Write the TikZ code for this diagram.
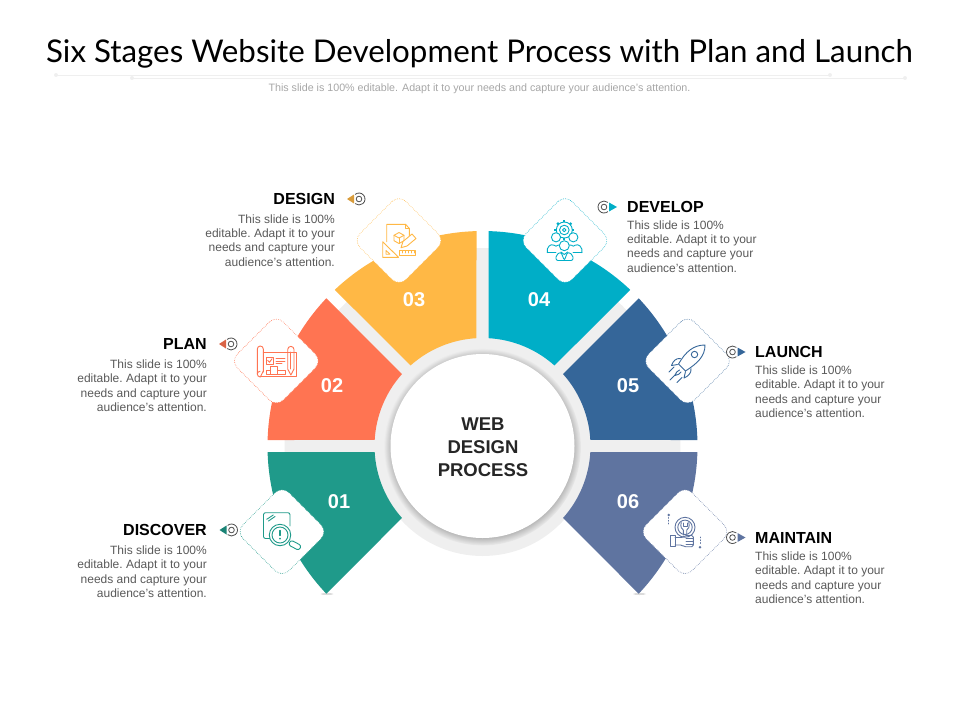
\documentclass[tikz,border=0pt]{standalone}
\usepackage{fontspec}
\setmainfont{Liberation Sans}
\newfontfamily\titlefont{Lato}
\usetikzlibrary{shadows}
\definecolor{stageA}{HTML}{1F9A8A}
\definecolor{stageB}{HTML}{FF7452}
\definecolor{stageC}{HTML}{FFB845}
\definecolor{stageD}{HTML}{00AEC7}
\definecolor{stageE}{HTML}{356699}
\definecolor{stageF}{HTML}{5F74A0}
\definecolor{ringgrey}{HTML}{EFEFEF}
\tikzset{
  headtxt/.style={font=\fontsize{16}{19}\selectfont\bfseries,text=black,inner sep=0pt},
  bodytxt/.style={font=\fontsize{12}{14.3}\selectfont\frenchspacing,text=black!65,inner sep=0pt},
  numtxt/.style={font=\fontsize{20}{24}\selectfont\bfseries,text=white,inner sep=0pt},
  tilebox/.style={rectangle,rotate=45,minimum size=65pt,rounded corners=10pt,fill=white,draw,dash pattern=on .6pt off 1.2pt,line width=.6pt,inner sep=0pt},
  iconline/.style={line width=.9pt,line join=round,line cap=round},
  markline/.style={black!70,line width=.8pt},
  ruleline/.style={ringgrey,line width=1pt}
}
\begin{document}
\begin{tikzpicture}[x=1pt,y=1pt,yscale=-1]
  \useasboundingbox (0,0) rectangle (960,720);
  \coordinate (hub) at (482.5,446);
  % title
  \node[font=\fontsize{31.3}{36}\selectfont\titlefont,inner sep=0pt] (titletxt) at (479.5,54) {Six Stages Website Development Process with Plan and Launch};
  \node[font=\fontsize{10.7}{12}\selectfont,text=black!35,inner sep=0pt] (subtxt) at (479.5,88.5) {This slide is 100\% editable. Adapt it to your needs and capture your audience's attention.};
  \draw[ruleline] (56,75) -- (830,75);
  \draw[ruleline] (132,78) -- (905,78);
  \foreach \dx/\dy in {56/75,830/75,132/78,905/78}
    \fill[ringgrey] (\dx,\dy) circle (2);
  % grey backing
  \fill[ringgrey] ([shift={(178.26:198)}]hub) arc[start angle=178.26,end angle=361.74,radius=198] -- cycle;
  \fill[ringgrey] (hub) circle (110);
  % little shadows under the tips
  \fill[black!14] (327,594) ellipse (6.5 and 1);
  \fill[black!14] (639.5,594) ellipse (6.5 and 1);
  % segments
  \foreach \ang/\col in {135/stageA,180/stageB,225/stageC,270/stageD,315/stageE,0/stageF}{
    \pgfmathsetmacro{\oa}{\ang+1.6}
    \pgfmathsetmacro{\ob}{\ang+43.4}
    \pgfmathsetmacro{\ia}{\ang+41.8}
    \pgfmathsetmacro{\ib}{\ang+3.2}
    \fill[\col] ([shift={(\oa:215)}]hub) arc[start angle=\oa,end angle=\ob,radius=215]
      -- ([shift={(\ia:108)}]hub) arc[start angle=\ia,end angle=\ib,radius=108] -- cycle;
  }
  % hub
  \node[circle,fill=white,minimum size=184pt,inner sep=0pt,
    circular drop shadow={shadow scale=1.07,shadow xshift=0pt,shadow yshift=-1pt,opacity=.9}] (hubdisc) at (hub) {};
  \node[align=center,inner sep=0pt,font=\fontsize{18.5}{23}\selectfont\bfseries,text=black!85] (hubtxt) at (483,447.5) {WEB\\DESIGN\\PROCESS};
  % numbers
  \node[numtxt] (numA) at (339,502) {01};
  \node[numtxt] (numB) at (332,386) {02};
  \node[numtxt] (numC) at (414,300) {03};
  \node[numtxt] (numD) at (539,300) {04};
  \node[numtxt] (numE) at (628,386) {05};
  \node[numtxt] (numF) at (628,502) {06};
  % tiles
  \node[tilebox,draw=stageA] (tileA) at (282,531.7) {};
  \node[tilebox,draw=stageB] (tileB) at (276.3,361) {};
  \node[tilebox,draw=stageC] (tileC) at (399,240.5) {};
  \node[tilebox,draw=stageD] (tileD) at (565,240.5) {};
  \node[tilebox,draw=stageE] (tileE) at (687.5,361) {};
  \node[tilebox,draw=stageF] (tileF) at (685,531.7) {};
  % icon discover
  \begin{scope}[stageA,iconline]
    \draw[rounded corners=2pt] (270,538.5) -- (263.5,538.5) -- (263.5,512.7) -- (290,512.7) -- (290,526);
    \draw (266.7,519.3) -- (273.3,515);
    \draw (268.5,521) -- (275,516.5);
    \fill[white] (280,535) circle (10.7);
    \draw (280,535) circle (10.7);
    \draw (280,535) circle (8);
    \draw[line width=1.2pt] (280,530.5) -- (280,535.5);
    \fill (280,538.6) circle (.9);
    \draw[rounded corners=2.5pt,rotate around={28:(295,545)}] (289,542.5) rectangle (301,548);
  \end{scope}
  % icon plan
  \begin{scope}[stageB,iconline]
    \draw (263.3,352.3) -- (296.7,352.3) -- (296.7,376.7) -- (260,376.7);
    \draw (263.3,372) -- (263.3,349) arc[start angle=0,end angle=-180,radius=3] -- (257.3,374);
    \draw (257.3,374) arc[start angle=180,end angle=90,radius=3] -- (263.3,371);
    \draw (257.3,374) arc[start angle=180,end angle=270,radius=2.7];
    \fill[white] (287.7,349) rectangle (294,369);
    \draw (287.7,369) -- (287.7,349.5) arc[start angle=180,end angle=360,radius=3.15] -- (294,369) -- (290.85,375) -- cycle;
    \draw (287.7,352) -- (294,352);
    \draw (290.85,352) -- (290.85,369);
    \draw (266,357.3) rectangle (273.3,364);
    \draw (267.8,360.5) -- (269.5,362.3) -- (272,358.8);
    \draw (276,358.3) -- (285,358.3);
    \draw (276,361) -- (285,361);
    \draw (276,363.7) -- (282,363.7);
    \draw (266,370) rectangle (270.7,374);
    \draw (270.7,366.7) rectangle (277.3,374);
    \draw (277.3,370) rectangle (285,374);
  \end{scope}
  % icon design
  \begin{scope}[stageC,iconline]
    \draw (386.7,241.7) -- (386.7,224.3) -- (405.5,224.3) -- (409.3,228.3) -- (409.3,236);
    \draw (405.5,224.3) -- (405.5,228.3) -- (409.3,228.3);
    \draw (399,232.5) -- (404,235.3) -- (404,240.7) -- (399,243.5) -- (394,240.7) -- (394,235.3) -- cycle;
    \draw (394,235.3) -- (399,238) -- (404,235.3);
    \draw (399,238) -- (399,243.5);
    \draw (382.7,241.7) -- (382.7,257.3) -- (398.5,257.3) -- cycle;
    \draw (386,250.5) -- (386,254.2) -- (390,254.2) -- cycle;
    \fill[white] (401,247.7) -- (403,241.5) -- (412,234) -- (416,238.5) -- (407,246) -- cycle;
    \draw (401,247.7) -- (403,241.5) -- (412,234) -- (416,238.5) -- (407,246) -- cycle;
    \draw (399.3,250.7) rectangle (415.7,255.7);
    \foreach \tk in {402,405,408,411,414}
      \draw[line width=.5pt] (\tk,250.7) -- (\tk,253);
  \end{scope}
  % icon develop
  \begin{scope}[stageD,iconline]
    \foreach \tk in {0,45,...,315}
      \draw[line width=2.2pt,line cap=butt] ([shift={(\tk:8)}]564.3,230) -- ([shift={(\tk:10)}]564.3,230);
    \draw (564.3,230) circle (8);
    \draw (564.3,230) circle (4.8);
    \draw (564.3,230) circle (1.8);
    \fill[white] (556,237.3) circle (4.6);
    \fill[white] (573.3,237.3) circle (4.6);
    \draw (556,237.3) circle (4.6);
    \draw (573.3,237.3) circle (4.6);
    \draw[rounded corners=2pt] (547.3,252.7) -- (547.3,247) -- (553,243.8) -- (556,247) -- (559,243.8) -- (562,246);
    \draw[rounded corners=2pt] (581.8,252.7) -- (581.8,247) -- (576,243.8) -- (573.3,247) -- (570.3,243.8) -- (567,246);
    \draw (547.3,252.7) -- (556,252.7);
    \draw (573,252.7) -- (581.8,252.7);
    \fill[white] (564.3,245.7) circle (5);
    \draw (564.3,245.7) circle (5);
    \draw[rounded corners=2pt] (556,260.5) -- (556,255) -- (561,252) -- (564.3,260.5) -- (567.6,252) -- (573,255) -- (573,260.5) -- cycle;
    \draw (561,252) -- (564.3,254.5) -- (567.6,252);
  \end{scope}
  % icon launch
  \begin{scope}[stageE,iconline]
    \draw (705,345) .. controls (694,345) and (686,351) .. (678.5,364) -- (685.5,371) .. controls (698,363) and (705,356) .. (705,345) -- cycle;
    \draw (694.5,354.5) circle (3.2);
    \draw (680.5,358.5) .. controls (676,358) and (673,361) .. (671.5,365.5) -- (677.5,364.5);
    \draw (691,368.5) .. controls (691.5,373) and (688.5,376) .. (684,378) -- (685.5,371.5);
    \draw (679.5,370) .. controls (677,371) and (675.5,373) .. (675,375.5) .. controls (677.5,375) and (680,374) .. (681,372);
    \draw (674,367) -- (669,372);
    \draw (676,374) -- (670,380);
    \draw (682,377.5) -- (677,382.5);
  \end{scope}
  % icon maintain
  \begin{scope}[stageF,iconline]
    \draw (685,527.3) circle (10);
    \draw (685,527.3) circle (7.2);
    \draw (681.2,522.5) .. controls (680,527) and (682,529.5) .. (683.3,530) -- (683.3,535);
    \draw (688.8,522.5) .. controls (690,527) and (688,529.5) .. (686.7,530) -- (686.7,535);
    \draw (683,523) -- (683,526) -- (687,526) -- (687,523);
    \fill[white] (675,537.5) rectangle (693.5,547);
    \draw (670,535.2) rectangle (675,546);
    \draw[rounded corners=1.5pt] (675,537.5) -- (683,537.5) -- (685,535.5) -- (693.3,535.5) -- (693.3,546.7) -- (684,546.7) -- (682,545) -- (675,545);
    \draw (686,538.5) -- (693.3,538.5);
    \draw (686,541.5) -- (693.3,541.5);
    \draw (686,544.5) -- (693.3,544.5);
    \fill (668.7,515) circle (1.4);
    \draw[dotted,line width=.8pt] (668.7,517.5) -- (668.7,525.5);
    \fill (700,547.3) circle (1.4);
    \draw[dotted,line width=.8pt] (700,537) -- (700,545);
  \end{scope}
  % marks on the left labels
  \foreach \mx/\my/\col in {359/199/stageC,231/344/stageB,231.5/530/stageA}{
    \fill[\col!85!black] ({\mx-5},{\my-4.5}) -- ({\mx-12},\my) -- ({\mx-5},{\my+4.5}) -- cycle;
    \draw[markline] (\mx,\my) circle (2.8);
    \draw[markline] ([shift={(-130:6)}]\mx,\my) arc[start angle=-130,end angle=130,radius=6];
  }
  % marks on the right labels
  \foreach \mx/\my/\col in {604/207/stageD,732.5/352/stageE,732.5/537.5/stageF}{
    \draw[markline] (\mx,\my) circle (2.8);
    \draw[markline] ([shift={(50:6)}]\mx,\my) arc[start angle=50,end angle=310,radius=6];
    \fill[\col] ({\mx+5},{\my-4.5}) -- ({\mx+13},\my) -- ({\mx+5},{\my+4.5}) -- cycle;
  }
  % labels
  \node[headtxt,anchor=east] (headC) at (335,199) {DESIGN};
  \node[bodytxt,align=right,anchor=north east] (bodyC) at (335,214.5) {This slide is 100\%\\editable. Adapt it to your\\needs and capture your\\audience's attention.};
  \node[headtxt,anchor=east] (headB) at (207,344) {PLAN};
  \node[bodytxt,align=right,anchor=north east] (bodyB) at (207,359.5) {This slide is 100\%\\editable. Adapt it to your\\needs and capture your\\audience's attention.};
  \node[headtxt,anchor=east] (headA) at (207,530) {DISCOVER};
  \node[bodytxt,align=right,anchor=north east] (bodyA) at (207,545.5) {This slide is 100\%\\editable. Adapt it to your\\needs and capture your\\audience's attention.};
  \node[headtxt,anchor=west] (headD) at (627,207) {DEVELOP};
  \node[bodytxt,align=left,anchor=north west] (bodyD) at (627,220.5) {This slide is 100\%\\editable. Adapt it to your\\needs and capture your\\audience's attention.};
  \node[headtxt,anchor=west] (headE) at (755,352) {LAUNCH};
  \node[bodytxt,align=left,anchor=north west] (bodyE) at (755,365.5) {This slide is 100\%\\editable. Adapt it to your\\needs and capture your\\audience's attention.};
  \node[headtxt,anchor=west] (headF) at (755,538) {MAINTAIN};
  \node[bodytxt,align=left,anchor=north west] (bodyF) at (755,551.5) {This slide is 100\%\\editable. Adapt it to your\\needs and capture your\\audience's attention.};
\end{tikzpicture}
\end{document}
